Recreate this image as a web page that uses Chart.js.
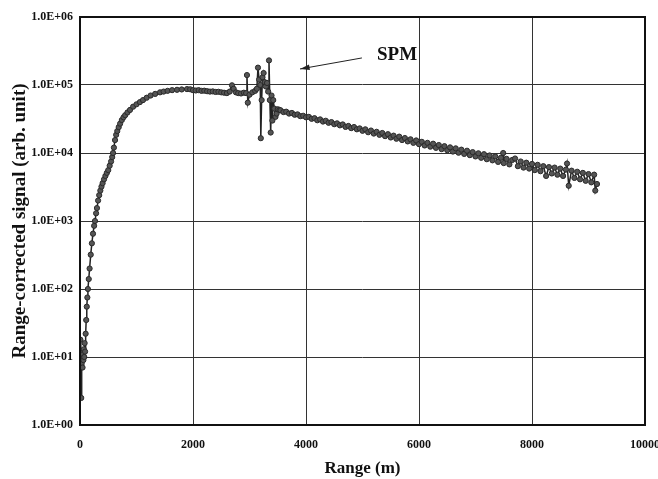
<!DOCTYPE html>
<html>
  <head>
    <meta charset="utf-8">
    <title>Range-corrected signal</title>
    <style>
      body { margin: 0; background: #fff; }
      canvas { display: block; }
    </style>
    <script src="https://cdn.jsdelivr.net/npm/chart.js@4.4.1/dist/chart.umd.min.js"></script>
  </head>
  <body>
    <canvas id="chart0" width="658" height="479"></canvas>
    <script type="text/javascript">
      // range (m) and range-corrected signal
      var ranges = [
        7, 15, 22, 30, 37, 45, 52, 60, 67, 75, 82, 90, 100, 110, 120, 130, 140, 155, 170, 190,
        210, 230, 250, 265, 285, 300, 320, 340, 360, 380, 400, 425, 450, 475, 500, 525, 550, 570, 585, 600,
        620, 640, 660, 685, 710, 740, 770, 800, 840, 885, 940, 1000, 1060, 1115, 1180, 1250, 1330, 1416, 1480, 1550,
        1630, 1717, 1800, 1894, 1950, 2000, 2050, 2100, 2150, 2200, 2250, 2300, 2350, 2400, 2450, 2500, 2550, 2600, 2650, 2690,
        2720, 2760, 2800, 2850, 2900, 2940, 2955, 2970, 3000, 3050, 3100, 3130, 3150, 3170, 3190, 3200, 3215, 3230, 3250, 3270,
        3290, 3310, 3330, 3345, 3360, 3375, 3390, 3405, 3420, 3440, 3460, 3480, 3500, 3530,
        3550, 3600, 3650, 3700, 3750, 3800, 3850, 3900, 3950, 4000, 4050, 4100, 4150, 4200, 4250, 4300, 4350, 4400, 4450, 4500,
        4550, 4600, 4650, 4700, 4750, 4800, 4850, 4900, 4950, 5000, 5050, 5100, 5150, 5200, 5250, 5300, 5350, 5400, 5450, 5500,
        5550, 5600, 5650, 5700, 5750, 5800, 5850, 5900, 5950, 6000, 6050, 6100, 6150, 6200, 6250, 6300, 6350, 6400, 6450, 6500,
        6550, 6600, 6650, 6700, 6750, 6800, 6850, 6900, 6950, 7000, 7050, 7100, 7150, 7200, 7250, 7300, 7350, 7400, 7450, 7490,
        7500, 7550, 7600, 7650, 7700, 7750, 7800, 7850, 7900, 7950, 8000, 8050, 8100, 8150, 8200, 8250, 8300, 8350, 8400, 8450,
        8500, 8550, 8600, 8620, 8650, 8700, 8750, 8800, 8850, 8900, 8950, 9000, 9050, 9100, 9120, 9150
      ];
      var signal = [
        18, 10, 2.5, 8, 12, 7, 11, 9, 13, 10, 16, 12, 22, 35, 55, 75, 100, 140, 200, 320,
        470, 650, 850, 1000, 1300, 1550, 2000, 2400, 2800, 3200, 3600, 4100, 4600, 5100, 5600, 6500, 7500, 8700, 10000, 12000,
        15500, 18500, 21000, 24000, 27000, 30500, 33500, 36000, 39500, 43000, 48000, 52000, 56000, 60000, 65000, 70000, 74000, 78000, 80000, 82000,
        84000, 85000, 86000, 87000, 86500, 84000, 83000, 84000, 82000, 82500, 81000, 80000, 80500, 79000, 79500, 78000, 77000, 76000, 80000, 99000,
        88000, 78000, 76000, 75000, 77000, 76000, 140000, 55000, 72000, 78000, 82000, 88000, 180000, 120000, 100000, 16500, 60000, 130000, 150000, 110000,
        95000, 107000, 80000, 230000, 60000, 20000, 70000, 30000, 60000, 45000, 34000, 38000, 44000, 43000,
        42500, 40000, 40500, 38000, 38800, 36500, 37000, 34800, 35300, 33500, 34000, 31800, 32500, 30300, 31200, 29000, 29800, 27800, 28500, 26500,
        27300, 25500, 26300, 24200, 25000, 23200, 24100, 22300, 23000, 21200, 22300, 20200, 21400, 19300, 20500, 18500, 19700, 17700, 18900, 16900,
        18000, 16200, 17400, 15500, 16600, 14800, 15900, 14100, 15300, 13500, 14600, 12900, 14100, 12400, 13700, 11900, 13100, 11400, 12600, 11000,
        12100, 10500, 11700, 10100, 11200, 9700, 10800, 9300, 10300, 8900, 9900, 8500, 9600, 8100, 9200, 7800, 8900, 7400, 8500, 10000,
        7100, 8200, 6800, 7900, 8300, 6400, 7500, 6100, 7200, 5900, 6900, 5600, 6700, 5400, 6400, 4600, 6200, 5000, 6100, 4800,
        5900, 4600, 5700, 7000, 3300, 5500, 4300, 5300, 4100, 5100, 3900, 4900, 3700, 4800, 2800, 3500
      ];
      var yTicks = [1, 10, 100, 1000, 10000, 100000, 1000000];

      // SPM annotation, in data units
      var spmText = 'SPM';
      var spmLabelAt = [5257, 2.76e5];
      var spmArrowFrom = [4990, 2.5e5];
      var spmArrowTo = [3894, 1.72e5];

      var points = ranges.map(function (r, i) { return {x: r, y: signal[i]}; });
      var serif = '"Liberation Serif", "Times New Roman", serif';

      var framePlugin = {
        id: 'frame',
        afterDraw: function (chart) {
          var ctx = chart.ctx, a = chart.chartArea;
          var xs = chart.scales.x, ys = chart.scales.y;
          ctx.save();
          ctx.strokeStyle = '#111';
          ctx.lineWidth = 2;
          ctx.strokeRect(a.left, a.top, a.right - a.left, a.bottom - a.top);

          // annotation
          var x0 = xs.getPixelForValue(spmArrowFrom[0]), y0 = ys.getPixelForValue(spmArrowFrom[1]);
          var x1 = xs.getPixelForValue(spmArrowTo[0]), y1 = ys.getPixelForValue(spmArrowTo[1]);
          ctx.lineWidth = 1;
          ctx.strokeStyle = '#222';
          ctx.beginPath();
          ctx.moveTo(x0, y0);
          ctx.lineTo(x1, y1);
          ctx.stroke();
          var ang = Math.atan2(y1 - y0, x1 - x0);
          ctx.fillStyle = '#222';
          ctx.beginPath();
          ctx.moveTo(x1, y1);
          ctx.lineTo(x1 - 10 * Math.cos(ang - 0.28), y1 - 10 * Math.sin(ang - 0.28));
          ctx.lineTo(x1 - 10 * Math.cos(ang + 0.28), y1 - 10 * Math.sin(ang + 0.28));
          ctx.closePath();
          ctx.fill();

          ctx.font = 'bold 19px ' + serif;
          ctx.fillStyle = '#111';
          ctx.textAlign = 'left';
          ctx.textBaseline = 'middle';
          ctx.fillText(spmText, xs.getPixelForValue(spmLabelAt[0]), ys.getPixelForValue(spmLabelAt[1]));
          ctx.restore();
        }
      };

      var ctx0 = document.getElementById('chart0').getContext('2d');
      var chart0 = new Chart(ctx0, {
        type: 'line',
        data: {
          datasets: [{
            label: 'signal',
            data: points,
            borderColor: '#222',
            borderWidth: 1.5,
            pointRadius: 2.6,
            pointBorderWidth: 1,
            pointBackgroundColor: '#555',
            pointBorderColor: '#2a2a2a',
            tension: 0
          }]
        },
        options: {
          responsive: false,
          devicePixelRatio: 1,
          animation: false,
          parsing: false,
          layout: { padding: { top: 17, right: 13, left: 0, bottom: 0 } },
          plugins: { legend: { display: false }, tooltip: { enabled: false } },
          scales: {
            x: {
              type: 'linear',
              min: 0,
              max: 10000,
              ticks: {
                stepSize: 2000,
                padding: 13,
                maxRotation: 0,
                color: '#111',
                font: { family: serif, size: 12, weight: 'bold' },
                callback: function (v) { return String(v); }
              },
              grid: { color: '#333', lineWidth: 1, drawTicks: false },
              border: { display: false },
              title: {
                display: true,
                text: 'Range (m)',
                color: '#111',
                font: { family: serif, size: 17, weight: 'bold' },
                padding: { top: 0, bottom: 0 }
              },
              afterFit: function (s) { s.height = 54; s.paddingLeft = 0; s.paddingRight = 0; }
            },
            y: {
              type: 'logarithmic',
              min: 1,
              max: 1000000,
              afterBuildTicks: function (s) {
                s.ticks = yTicks.map(function (v) { return {value: v}; });
              },
              ticks: {
                padding: 7,
                color: '#111',
                font: { family: serif, size: 12, weight: 'bold' },
                callback: function (v) {
                  var e = Math.round(Math.log10(v));
                  return '1.0E+' + (e < 10 ? '0' : '') + e;
                }
              },
              grid: { color: '#333', lineWidth: 1, drawTicks: false },
              border: { display: false },
              title: {
                display: true,
                text: 'Range-corrected signal (arb. unit)',
                color: '#111',
                font: { family: serif, size: 19, weight: 'bold' },
                padding: { top: 9, bottom: 0 }
              },
              afterFit: function (s) { s.width = 80; s.paddingTop = 0; s.paddingBottom = 0; }
            }
          }
        },
        plugins: [framePlugin]
      });
    </script>
  </body>
</html>
